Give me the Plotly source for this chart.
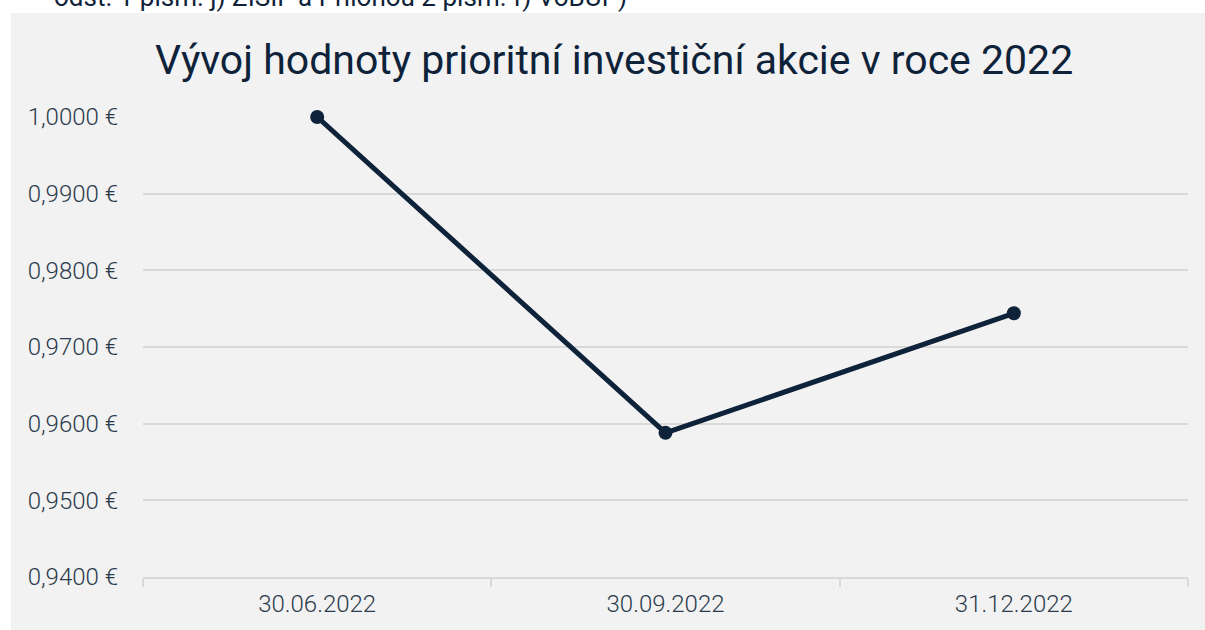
import plotly.graph_objects as go

categories = ["30.06.2022", "30.09.2022", "31.12.2022"]
values = [1.0000, 0.9588, 0.9744]
y_ticks = [0.94, 0.95, 0.96, 0.97, 0.98, 0.99, 1.00]
y_tick_labels = ["0,9400 €", "0,9500 €", "0,9600 €", "0,9700 €", "0,9800 €", "0,9900 €", "1,0000 €"]

title_text = "Vývoj hodnoty prioritní investiční akcie v roce 2022"
top_text = "odst. 1 písm. j) ZISIF a Přílohou 2 písm. f) VoBUP)"

W, H = 1205, 630
ml, mr, mt, mb = 143, 17, 117, 53
pw, ph = W - ml - mr, H - mt - mb

def px_x(x):
    return (x - ml) / pw

def px_y(y):
    return (H - mb - y) / ph

navy = "#0e2239"
grid = "#d9d9d9"
tick_color = "#2b3b4c"

fig = go.Figure()
fig.add_trace(go.Scatter(
    x=categories, y=values, mode="lines+markers",
    line=dict(color=navy, width=5),
    marker=dict(color=navy, size=14),
    cliponaxis=False, showlegend=False,
))

fig.update_layout(
    width=W, height=H,
    margin=dict(l=ml, r=mr, t=mt, b=mb),
    paper_bgcolor="white",
    plot_bgcolor="rgba(0,0,0,0)",
    font=dict(family="Roboto", color=tick_color),
    shapes=[dict(
        type="rect", xref="paper", yref="paper", layer="below",
        x0=px_x(11), x1=px_x(W + 5), y0=px_y(H + 5), y1=px_y(13),
        fillcolor="#f2f2f2", line=dict(width=0),
    )],
    annotations=[
        dict(text=title_text, xref="paper", yref="paper",
             x=px_x(614), y=px_y(60), xanchor="center", yanchor="middle",
             showarrow=False, font=dict(family="Roboto", size=41, color=navy)),
        dict(text=top_text, xref="paper", yref="paper",
             x=px_x(52), y=px_y(14), xanchor="left", yanchor="bottom",
             showarrow=False, font=dict(family="Roboto", size=26, color=navy)),
    ],
    xaxis=dict(
        type="category", range=[-0.5, 2.5], tickson="boundaries", ticks="outside",
        ticklen=8, tickwidth=2, tickcolor=grid,
        showline=True, linecolor=grid, linewidth=2,
        showgrid=False, zeroline=False,
        tickfont=dict(family="Roboto", size=24, color=tick_color, weight=300),
        ticklabelstandoff=4,
    ),
    yaxis=dict(
        range=[0.94, 1.0], tickvals=y_ticks, ticktext=y_tick_labels,
        showgrid=True, gridcolor=grid, gridwidth=2, zeroline=False,
        showline=False, ticks="",
        tickfont=dict(family="Roboto", size=24, color=tick_color, weight=300),
        ticklabelstandoff=24,
    ),
)

fig.write_html("out.html", config={"displayModeBar": False},
               post_script="document.body.style.margin='0';")
